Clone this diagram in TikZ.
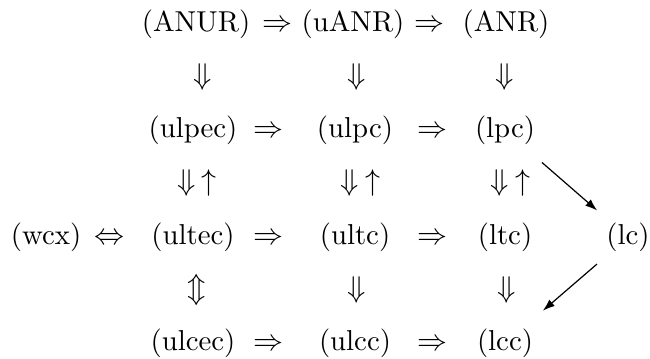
\documentclass[tikz,border=0pt]{standalone}
\usetikzlibrary{arrows.meta}
\begin{document}
\begin{tikzpicture}[x=0.33333pt,y=-0.33333pt,
  lbl/.style={anchor=base,inner sep=0pt,font=\fontsize{9.6}{11.5}\selectfont},
  diag/.style={line width=0.4pt,-{Latex[length=4pt,width=2.8pt]}}]
\useasboundingbox (0,0) rectangle (650,358);
% row 1
\node[lbl] (ANUR) at (196,31.5) {(ANUR)};
\node[lbl] (i1a) at (277,31.5) {$\Rightarrow$};
\node[lbl] (uANR) at (353,31.5) {(uANR)};
\node[lbl] (i1b) at (429,31.5) {$\Rightarrow$};
\node[lbl] (ANR) at (506,31.5) {(ANR)};
% row 2
\node[lbl] (v2a) at (203,84.5) {$\Downarrow$};
\node[lbl] (v2b) at (357,84.5) {$\Downarrow$};
\node[lbl] (v2c) at (505,84.5) {$\Downarrow$};
% row 3
\node[lbl] (ulpec) at (193,137.5) {(ulpec)};
\node[lbl] (i3a) at (268,137.5) {$\Rightarrow$};
\node[lbl] (ulpc) at (355,137.5) {(ulpc)};
\node[lbl] (i3b) at (432,137.5) {$\Rightarrow$};
\node[lbl] (lpc) at (505,137.5) {(lpc)};
% row 4
\node[lbl] (v4a) at (197,190.5) {$\Downarrow\:\uparrow$};
\node[lbl] (v4b) at (360,190.5) {$\Downarrow\:\uparrow$};
\node[lbl] (v4c) at (510,190.5) {$\Downarrow\:\uparrow$};
% row 5
\node[lbl] (wcx) at (46,244.5) {(wcx)};
\node[lbl] (i5o) at (109,244.5) {$\Leftrightarrow$};
\node[lbl] (ultec) at (193,244.5) {(ultec)};
\node[lbl] (i5a) at (268,244.5) {$\Rightarrow$};
\node[lbl] (ultc) at (355,244.5) {(ultc)};
\node[lbl] (i5b) at (432,244.5) {$\Rightarrow$};
\node[lbl] (ltc) at (505,244.5) {(ltc)};
\node[lbl] (lc) at (628,244.5) {(lc)};
% row 6
\node[lbl] (v6a) at (197,297.5) {$\Updownarrow$};
\node[lbl] (v6b) at (357,297.5) {$\Downarrow$};
\node[lbl] (v6c) at (507,297.5) {$\Downarrow$};
% row 7
\node[lbl] (ulcec) at (193,350.5) {(ulcec)};
\node[lbl] (i7a) at (268,350.5) {$\Rightarrow$};
\node[lbl] (ulcc) at (355,350.5) {(ulcc)};
\node[lbl] (i7b) at (432,350.5) {$\Rightarrow$};
\node[lbl] (lcc) at (505,350.5) {(lcc)};
% diagonal arrows
\draw[diag,shorten <=8.7pt,shorten >=6pt] (lpc) -- (lc);
\draw[diag,shorten <=6pt,shorten >=9pt] (lc) -- (lcc);
\end{tikzpicture}
\end{document}
